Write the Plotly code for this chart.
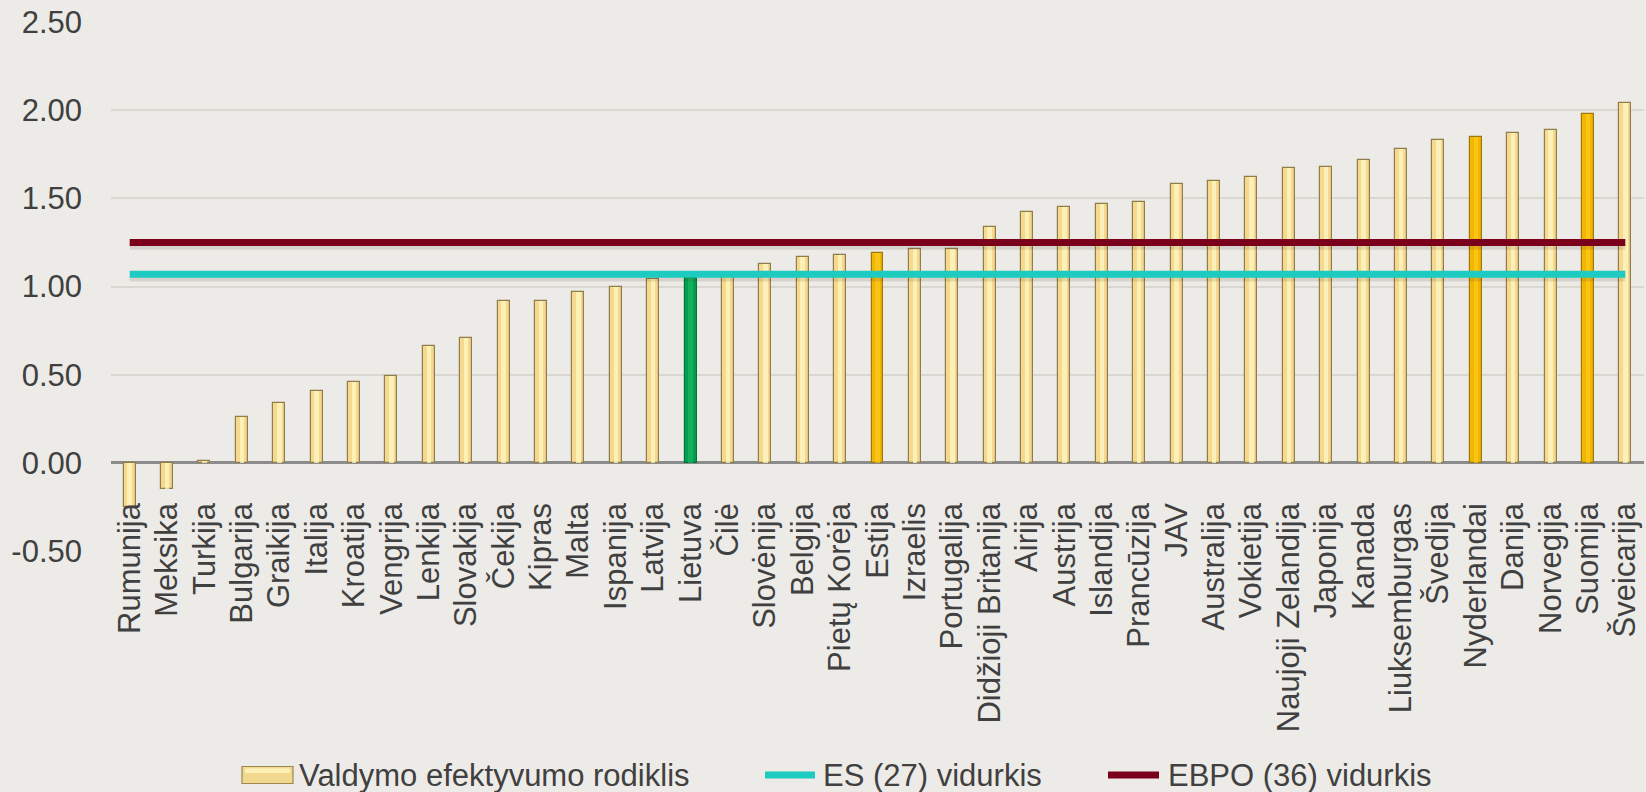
import plotly.graph_objects as go

# ---------------- data ----------------
countries = ["Rumunija", "Meksika", "Turkija", "Bulgarija", "Graikija", "Italija", "Kroatija",
             "Vengrija", "Lenkija", "Slovakija", "Čekija", "Kipras", "Malta", "Ispanija",
             "Latvija", "Lietuva", "Čilė", "Slovėnija", "Belgija", "Pietų Korėja", "Estija",
             "Izraelis", "Portugalija", "Didžioji Britanija", "Airija", "Austrija", "Islandija",
             "Prancūzija", "JAV", "Australija", "Vokietija", "Naujoji Zelandija", "Japonija",
             "Kanada", "Liuksemburgas", "Švedija", "Nyderlandai", "Danija", "Norvegija",
             "Suomija", "Šveicarija"]
values = [-0.25, -0.15, 0.01, 0.26, 0.34, 0.41, 0.46, 0.49, 0.66, 0.71, 0.92, 0.92, 0.97,
          1.00, 1.04, 1.05, 1.06, 1.13, 1.17, 1.18, 1.19, 1.21, 1.21, 1.34, 1.42, 1.45, 1.47,
          1.48, 1.58, 1.60, 1.62, 1.67, 1.68, 1.72, 1.78, 1.83, 1.85, 1.87, 1.89, 1.98, 2.04]
es_avg = 1.07
oecd_avg = 1.25
highlight_green = ["Lietuva"]
highlight_gold = ["Estija", "Nyderlandai", "Suomija"]

y_tick_vals = [-0.5, 0.0, 0.5, 1.0, 1.5, 2.0, 2.5]
y_tick_text = ["-0.50", "0.00", "0.50", "1.00", "1.50", "2.00", "2.50"]

series_names = ["Valdymo efektyvumo rodiklis", "ES (27) vidurkis", "EBPO (36) vidurkis"]

# ---------------- styling ----------------
FONT = "Liberation Sans, Arial, sans-serif"
TXT = "#404040"
BG = "#EDEBE7"
W, H = 1646, 792
ML, MR, MT, MB = 111, 2, 22, 241
SHADOW_DROP = 0.022  # visual drop-shadow offset (in axis units) under the average lines

base_cols, hi_cols, line_cols = [], [], []
for c in countries:
    if c in highlight_green:
        base_cols.append("#00A04E"); hi_cols.append("rgba(40,190,105,0.55)"); line_cols.append("#00743A")
    elif c in highlight_gold:
        base_cols.append("#F3B500"); hi_cols.append("rgba(255,208,40,0.55)"); line_cols.append("#9A7A10")
    else:
        base_cols.append("#F4D98E"); hi_cols.append("rgba(255,247,195,0.75)"); line_cols.append("#8F7D4E")

fig = go.Figure()
fig.add_trace(go.Bar(x=countries, y=values, width=0.32, name=series_names[0],
                     marker=dict(color=base_cols, line=dict(color=line_cols, width=1.2)),
                     showlegend=False))
fig.add_trace(go.Bar(x=countries, y=values, width=0.12, name=series_names[0],
                     marker=dict(color=hi_cols, line=dict(width=0)),
                     showlegend=False, hoverinfo="skip"))
# soft shadows under the average lines
for avg in (es_avg, oecd_avg):
    fig.add_trace(go.Scatter(x=countries, y=[avg - SHADOW_DROP] * len(countries), mode="lines",
                             line=dict(color="rgba(60,50,40,0.13)", width=7),
                             showlegend=False, hoverinfo="skip"))
fig.add_trace(go.Scatter(x=countries, y=[es_avg] * len(countries), mode="lines",
                         name=series_names[1], line=dict(color="#1ECBC0", width=7),
                         showlegend=False))
fig.add_trace(go.Scatter(x=countries, y=[oecd_avg] * len(countries), mode="lines",
                         name=series_names[2], line=dict(color="#7A001B", width=7),
                         showlegend=False))

plot_h = H - MT - MB
plot_w = W - ML - MR


def px(xp):
    return (xp - ML) / plot_w


def py(yp):
    return (H - MB - yp) / plot_h


# manual legend
ly = 775
shapes = [
    dict(type="rect", xref="paper", yref="paper", x0=px(242), x1=px(293), y0=py(ly + 8.5), y1=py(ly - 8.5),
         fillcolor="#F2D88E", line=dict(color="#9C8750", width=1.2)),
    dict(type="rect", xref="paper", yref="paper", x0=px(245), x1=px(290), y0=py(ly - 2), y1=py(ly - 6.5),
         fillcolor="#FDF1B8", line=dict(width=0)),
    dict(type="line", xref="paper", yref="paper", x0=px(765), x1=px(815), y0=py(ly), y1=py(ly),
         line=dict(color="#1ECBC0", width=7)),
    dict(type="line", xref="paper", yref="paper", x0=px(1108), x1=px(1159), y0=py(ly), y1=py(ly),
         line=dict(color="#7A001B", width=7)),
]
annotations = []
for xpos, name in zip([297, 821, 1166], series_names):
    annotations.append(dict(xref="paper", yref="paper", x=px(xpos), y=py(ly), text=name,
                            showarrow=False, xanchor="left", yanchor="middle",
                            font=dict(family=FONT, size=31, color=TXT)))

fig.update_layout(
    width=W, height=H,
    margin=dict(l=ML, r=MR, t=MT, b=MB, autoexpand=False),
    paper_bgcolor=BG, plot_bgcolor=BG,
    barmode="overlay", bargap=0,
    showlegend=False,
    font=dict(family=FONT, size=31, color=TXT),
    shapes=shapes, annotations=annotations,
    xaxis=dict(type="category", range=[-0.5, len(countries) - 0.5], anchor="free", position=1 / 6,
               tickangle=-90, showgrid=False, showline=False, zeroline=False, ticks="",
               ticklabelstandoff=33, automargin=False,
               tickfont=dict(family=FONT, size=31, color=TXT)),
    yaxis=dict(range=[-0.5, 2.5], tickvals=y_tick_vals, ticktext=y_tick_text,
               showgrid=True, gridcolor="#DAD7D1", gridwidth=1.5,
               zeroline=True, zerolinecolor="#8C8C8C", zerolinewidth=2.5,
               showline=False, ticks="", ticklabelstandoff=28, automargin=False,
               tickfont=dict(family=FONT, size=31, color=TXT)),
)

fig.write_html("out.html", config={"displayModeBar": False},
               post_script="document.body.style.margin='0';document.body.style.overflow='hidden';"
                           "document.body.style.background='" + BG + "';")
